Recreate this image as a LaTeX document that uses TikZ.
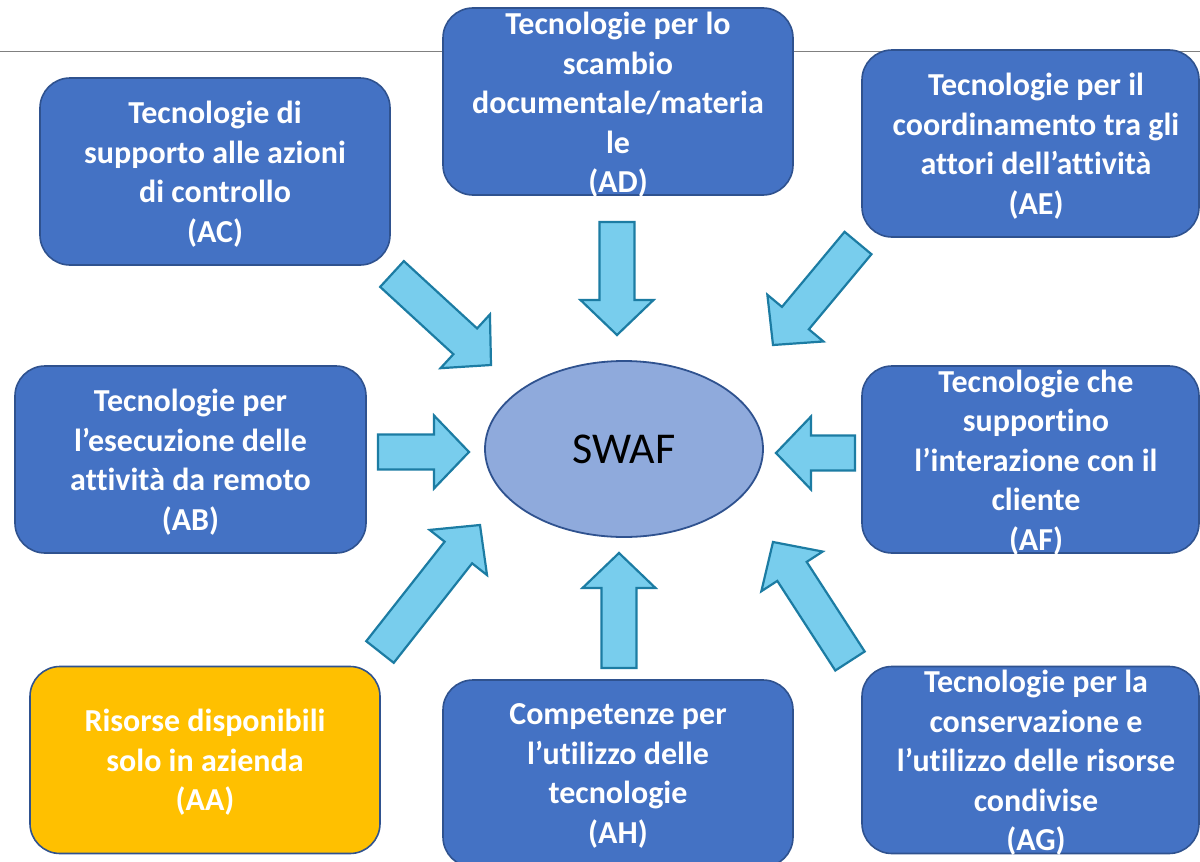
\documentclass[tikz,border=0pt]{standalone}
\usepackage{fontspec}
\setmainfont{Carlito}[Ligatures=NoCommon]
\usetikzlibrary{calc,shapes.geometric}
\definecolor{boxblue}{HTML}{4472C4}
\definecolor{boxline}{HTML}{2F528F}
\definecolor{ellfill}{HTML}{8FAADC}
\definecolor{arrfill}{HTML}{78CDED}
\definecolor{arrline}{HTML}{1C7CA3}
\definecolor{aayellow}{HTML}{FFC000}
\definecolor{rulegray}{HTML}{808080}
\newcommand\blockarrow[2]{%
  \coordinate (hb) at ($(#2)!35pt!(#1)$);
  \draw[barr] ($(#1)!17.5pt!90:(#2)$) -- ($(hb)!17.5pt!90:(#2)$) -- ($(hb)!36.5pt!90:(#2)$) -- (#2)
    -- ($(hb)!36.5pt!-90:(#2)$) -- ($(hb)!17.5pt!-90:(#2)$) -- ($(#1)!17.5pt!-90:(#2)$) -- cycle;}
\begin{document}
\begin{tikzpicture}[x=1pt,y=-1pt,
  boxshape/.style={draw=boxline, line width=1.6pt, fill=boxblue, rounded corners=30pt,
    minimum height=187pt, inner sep=0pt},
  boxtext/.style={text=white, font=\fontsize{32}{39.5}\selectfont\bfseries, align=center, inner sep=0pt},
  barr/.style={draw=arrline, fill=arrfill, line width=2.2pt, line join=miter},
]
\useasboundingbox (0,0) rectangle (1200,862);
\clip (0,0) rectangle (1200,862);
\fill[white] (0,0) rectangle (1200,862);
\coordinate (L0) at (0,51);
\coordinate (L1) at (1200,51);
\draw[rulegray, line width=1pt] (L0) -- (L1);

% boxes
\node[boxshape, minimum width=350pt] (AC) at (215,171.5) {};
\node[boxtext] (ACt) at (215,174) {Tecnologie di\\supporto alle azioni\\di controllo\\(AC)};
\node[boxshape, minimum width=350pt] (AD) at (618,101.5) {};
\node[boxtext] (ADt) at (618,105) {Tecnologie per lo\\scambio\\documentale/materia\\le\\(AD)};
\node[boxshape, minimum width=337pt] (AE) at (1030.5,143.5) {};
\node[boxtext] (AEt) at (1036,146) {Tecnologie per il\\coordinamento tra gli\\attori dell’attività\\(AE)};
\node[boxshape, minimum width=351pt] (AB) at (190.5,459.5) {};
\node[boxtext] (ABt) at (190.5,462) {Tecnologie per\\l’esecuzione delle\\attività da remoto\\(AB)};
\node[boxshape, minimum width=337pt] (AF) at (1030.5,459.5) {};
\node[boxtext] (AFt) at (1036,462.5) {Tecnologie che\\supportino\\l’interazione con il\\cliente\\(AF)};
\node[boxshape, minimum width=350pt, fill=aayellow] (AA) at (205,760) {};
\node[boxtext] (AAt) at (205,762.5) {Risorse disponibili\\solo in azienda\\(AA)};
\node[boxshape, minimum width=350pt] (AH) at (618,773.5) {};
\node[boxtext] (AHt) at (618,776) {Competenze per\\l’utilizzo delle\\tecnologie\\(AH)};
\node[boxshape, minimum width=337pt] (AG) at (1030.5,760) {};
\node[boxtext] (AGt) at (1036,763) {Tecnologie per la\\conservazione e\\l’utilizzo delle risorse\\condivise\\(AG)};

% centre
\node[draw=boxline, line width=1.8pt, fill=ellfill, ellipse, minimum width=278pt, minimum height=176pt,
  font=\fontsize{44}{50}\selectfont, inner sep=0pt] (SW) at (624,449) {SWAF};

% arrow ends
\coordinate (acT) at (392,274); \coordinate (acH) at (491,365);
\coordinate (adT) at (617,222); \coordinate (adH) at (617,335);
\coordinate (aeT) at (858,243); \coordinate (aeH) at (773,345);
\coordinate (abT) at (378,452); \coordinate (abH) at (469,452);
\coordinate (afT) at (855,453); \coordinate (afH) at (776,453);
\coordinate (aaT) at (380,652); \coordinate (aaH) at (480,525);
\coordinate (ahT) at (619,668); \coordinate (ahH) at (619,553);
\coordinate (agT) at (850,661); \coordinate (agH) at (773,542);

\blockarrow{acT}{acH}
\blockarrow{adT}{adH}
\blockarrow{aeT}{aeH}
\blockarrow{abT}{abH}
\blockarrow{afT}{afH}
\blockarrow{aaT}{aaH}
\blockarrow{ahT}{ahH}
\blockarrow{agT}{agH}
\end{tikzpicture}
\end{document}
